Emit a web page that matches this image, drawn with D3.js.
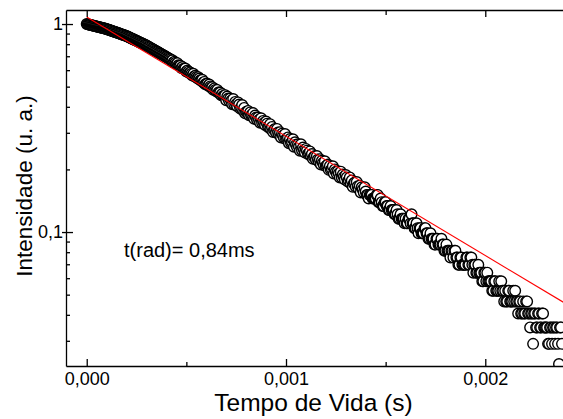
<!DOCTYPE html>
<html><head><meta charset="utf-8">
<script src="https://cdn.jsdelivr.net/npm/d3@7"></script>
<style>
body{margin:0;background:#fff}
svg{display:block}
text{font-family:"Liberation Sans",Arial,sans-serif;fill:#000}
</style>
</head><body>
<svg id="chart" width="563" height="419"></svg>
<script>
// ---- data ----
const sampleStep = 0.000005; // s between consecutive measured points
const intensity = [
// 0 .. 0.000415 s
1.000,0.997,0.995,0.992,0.989,0.986,0.984,0.981,0.978,0.975,
0.973,0.970,0.967,0.965,0.962,0.959,0.957,0.954,0.951,0.949,
0.946,0.942,0.939,0.935,0.932,0.928,0.924,0.921,0.917,0.914,
0.910,0.907,0.903,0.900,0.896,0.893,0.889,0.886,0.882,0.879,
0.876,0.871,0.866,0.862,0.857,0.853,0.848,0.844,0.839,0.835,
0.831,0.826,0.822,0.818,0.813,0.809,0.805,0.801,0.796,0.792,
0.788,0.783,0.778,0.773,0.768,0.763,0.759,0.754,0.749,0.744,
0.739,0.735,0.730,0.725,0.721,0.716,0.712,0.707,0.703,0.698,
0.694,0.689,0.685,0.681,
// 0.00042 .. 0.000795 s
0.676,0.667,0.669,0.653,0.659,0.651,0.642,0.648,0.633,0.631,
0.630,0.615,0.621,0.609,0.608,0.611,0.592,0.598,0.590,0.582,
0.585,0.577,0.566,0.576,0.561,0.564,0.556,0.548,0.555,0.547,
0.536,0.536,0.539,0.524,0.527,0.513,0.516,0.516,0.505,0.512,
0.501,0.494,0.497,0.483,0.490,0.482,0.475,0.482,0.468,0.468,
0.468,0.454,0.461,0.451,0.451,0.455,0.430,0.448,0.438,0.427,
0.438,0.428,0.411,0.436,0.412,0.422,0.412,0.402,0.420,0.410,
0.393,0.397,0.408,0.384,0.395,0.372,
// 0.0008 .. 0.001395 s
0.378,0.380,0.382,0.364,0.376,0.364,0.366,0.373,0.350,0.363,
0.355,0.347,0.355,0.347,0.335,0.352,0.335,0.342,0.334,0.327,
0.340,0.332,0.320,0.322,0.330,0.312,0.320,0.303,0.310,0.313,
0.301,0.313,0.301,0.294,0.302,0.285,0.297,0.290,0.283,0.296,
0.279,0.282,0.285,0.267,0.280,0.268,0.271,0.279,0.257,0.270,
0.263,0.256,0.264,0.257,0.246,0.264,0.247,0.255,0.248,0.241,
0.251,0.246,0.237,0.239,0.244,0.232,0.237,0.225,0.230,0.232,
0.223,0.232,0.223,0.218,0.224,0.211,0.220,0.215,0.210,0.219,
0.207,0.209,0.211,0.199,0.208,0.199,0.201,0.207,0.191,0.200,
0.195,0.190,0.196,0.191,0.183,0.195,0.183,0.189,0.184,0.179,
0.188,0.183,0.175,0.177,0.183,0.171,0.177,0.165,0.171,0.173,
0.165,0.174,0.166,0.161,0.167,0.155,0.164,0.160,0.155,0.164,
// 0.0014 .. 0.002385 s
0.1566,0.1508,0.1508,0.1450,0.1508,0.1508,0.1508,0.1450,0.1450,0.1450,
0.1450,0.1508,0.1508,0.1392,0.1392,0.1450,0.1392,0.1334,0.1334,0.1392,
0.1392,0.1334,0.1334,0.1276,0.1276,0.1334,0.1276,0.1276,0.1276,0.1218,
0.1218,0.1276,0.1218,0.1160,0.1160,0.1218,0.1160,0.1160,0.1160,0.1102,
0.1160,0.1102,0.1102,0.1160,0.1160,0.1102,0.1218,0.1102,0.1102,0.1044,
0.1044,0.1102,0.1044,0.0986,0.1044,0.1044,0.0986,0.0986,0.0986,0.1044,
0.1044,0.0986,0.0986,0.0928,0.0928,0.0986,0.0928,0.0928,0.0928,0.0870,
0.0870,0.0928,0.0928,0.0870,0.0870,0.0870,0.0928,0.0870,0.0870,0.0812,
0.0812,0.0870,0.0812,0.0812,0.0812,0.0754,0.0812,0.0812,0.0754,0.0812,
0.0812,0.0754,0.0754,0.0696,0.0696,0.0754,0.0754,0.0696,0.0696,0.0696,
0.0696,0.0754,0.0754,0.0696,0.0696,0.0754,0.0754,0.0696,0.0638,0.0696,
0.0696,0.0638,0.0638,0.0696,0.0638,0.0638,0.0638,0.0580,0.0580,0.0638,
0.0638,0.0580,0.0638,0.0580,0.0580,0.0580,0.0580,0.0522,0.0522,0.0580,
0.0580,0.0522,0.0522,0.0522,0.0580,0.0522,0.0580,0.0522,0.0522,0.0464,
0.0522,0.0464,0.0464,0.0522,0.0522,0.0464,0.0464,0.0464,0.0522,0.0464,
0.0522,0.0464,0.0464,0.0406,0.0464,0.0464,0.0406,0.0406,0.0464,0.0406,
0.0406,0.0464,0.0464,0.0406,0.0406,0.0348,0.0406,0.0406,0.0290,0.0406,
0.0406,0.0348,0.0348,0.0406,0.0406,0.0348,0.0348,0.0406,0.0406,0.0348,
0.0348,0.0348,0.0348,0.0290,0.0290,0.0348,0.0348,0.0290,0.0348,0.0348,
0.0290,0.0348,0.0348,0.0290,0.0232,0.0348,0.0348,0.0290
];
const fitTime = [0, 0.0024];
const fitIntensity = [1.08, 0.0455];

const xMajorTicks = [0, 0.001, 0.002];
const xTickLabels = ["0,000", "0,001", "0,002"];
const xMinorTicks = [0.0005, 0.0015];
const yMajorTicks = [0.1, 1];
const yTickLabels = ["0,1", "1"];
const yMinorTicks = [0.03,0.04,0.05,0.06,0.07,0.08,0.09,0.2,0.3,0.4,0.5,0.6,0.7,0.8,0.9];

const xTitle = "Tempo de Vida (s)";
const yTitle = "Intensidade (u. a.)";
const note = "t(rad)= 0,84ms";

// ---- layout ----
const L = 66, T = 10, R = 563, B = 366;
const svg = d3.select("#chart");

const x = d3.scaleLinear().domain([-0.000104, 0.00239]).range([L, R]);
const y = d3.scaleLog().domain([0.0227, 1.168]).range([B, T]);

const points = intensity.map((v, i) => ({t: i * sampleStep, v}));

svg.append("defs").append("clipPath").attr("id", "plotclip")
  .append("rect").attr("x", L).attr("y", T).attr("width", R - L).attr("height", B - T);

const plot = svg.append("g").attr("clip-path", "url(#plotclip)");

plot.selectAll("circle").data(points).join("circle")
  .attr("cx", d => x(d.t))
  .attr("cy", d => y(d.v))
  .attr("r", 5.3)
  .attr("fill", "#fff")
  .attr("stroke", "#000")
  .attr("stroke-width", 1.4);

const fit = fitTime.map((t, i) => [t, fitIntensity[i]]);
plot.append("path")
  .datum(fit)
  .attr("d", d3.line().x(d => x(d[0])).y(d => y(d[1])))
  .attr("fill", "none")
  .attr("stroke", "#ff0000")
  .attr("stroke-width", 1.1);

// ---- axes ----
const axisStroke = 1.3;
function styleAxis(g) {
  g.attr("font-family", null);
  g.selectAll(".domain").attr("stroke", "#000").attr("stroke-width", axisStroke);
  g.selectAll(".tick line").attr("stroke", "#000").attr("stroke-width", axisStroke);
  g.selectAll(".tick text").style("font-size", "18px").attr("fill", "#000");
}

// bottom
svg.append("g").attr("transform", `translate(0,${B})`)
  .call(d3.axisBottom(x).tickValues(xMajorTicks).tickSizeInner(-7).tickSizeOuter(0)
        .tickPadding(6).tickFormat((d, i) => xTickLabels[i]))
  .call(styleAxis);
svg.append("g").attr("transform", `translate(0,${B})`)
  .call(d3.axisBottom(x).tickValues(xMinorTicks).tickSizeInner(-4).tickSizeOuter(0).tickFormat(""))
  .call(styleAxis).call(g => g.select(".domain").remove());

// top
svg.append("g").attr("transform", `translate(0,${T})`)
  .call(d3.axisTop(x).tickValues(xMajorTicks).tickSizeInner(-7).tickSizeOuter(0).tickFormat(""))
  .call(styleAxis);
svg.append("g").attr("transform", `translate(0,${T})`)
  .call(d3.axisTop(x).tickValues(xMinorTicks).tickSizeInner(-5).tickSizeOuter(0).tickFormat(""))
  .call(styleAxis).call(g => g.select(".domain").remove());

// left
svg.append("g").attr("transform", `translate(${L},0)`)
  .call(d3.axisLeft(y).tickValues(yMajorTicks).tickSizeInner(-7).tickSizeOuter(0)
        .tickPadding(3).tickFormat((d, i) => yTickLabels[i]))
  .call(styleAxis)
  .call(g => g.selectAll(".tick line").attr("x1", -4));
svg.append("g").attr("transform", `translate(${L},0)`)
  .call(d3.axisLeft(y).tickValues(yMinorTicks).tickSizeInner(-4).tickSizeOuter(0).tickFormat(""))
  .call(styleAxis).call(g => g.select(".domain").remove());

// ---- titles ----
svg.append("text")
  .attr("x", (L + R) / 2 - 1).attr("y", 411)
  .attr("text-anchor", "middle")
  .style("font-size", "24.5px")
  .text(xTitle);

svg.append("text")
  .attr("transform", `translate(32,${(T + B) / 2 - 2}) rotate(-90)`)
  .attr("text-anchor", "middle")
  .style("font-size", "22.5px")
  .text(yTitle);

svg.append("text")
  .attr("x", 124).attr("y", 257)
  .style("font-size", "20px")
  .text(note);
</script>
</body></html>
